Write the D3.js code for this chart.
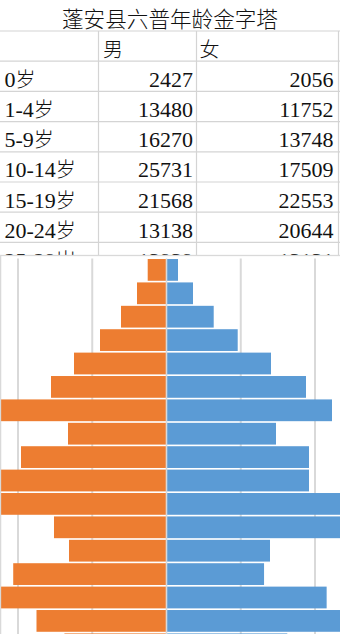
<!DOCTYPE html>
<html><head><meta charset="utf-8">
<script src="https://cdn.jsdelivr.net/npm/d3@7"></script>
<style>html,body{margin:0;padding:0;background:#fff;overflow:hidden}svg{display:block}</style>
</head><body>
<script>
// ---- data ----
const title = "蓬安县六普年龄金字塔";
const headers = ["", "男", "女"];
const ageGroups = ["0岁","1-4岁","5-9岁","10-14岁","15-19岁","20-24岁","25-29岁","30-34岁","35-39岁","40-44岁","45-49岁","50-54岁","55-59岁","60-64岁","65-69岁","70-74岁","75-79岁","80-84岁","85岁以上"];
const maleValues   = [2427,13480,16270,25731,21568,13138,13939,24000,25000,19192,19192,14747,22289,18788,14074,9589,6357,3569,1549];
const femaleValues = [2056,11752,13748,17509,22553,20644,13131,15152,24500,23500,19596,13266,23000,15555,12458,8956,6128,3973,2532];
const sheetRowCount = 7;
const gridTicks = [-20000,-10000,10000,20000];

// ---- layout ----
const W = 340, H = 634;
const ORANGE = "#ED7D31", BLUE = "#5B9BD5";
const CELL = "#d4d4d4", GRID = "#d9d9d9";
const SERIF = "'Liberation Serif','Noto Sans CJK SC',serif";
const CJK = "'Noto Sans CJK SC',sans-serif";

const svg = d3.select("body").append("svg").attr("width", W).attr("height", H);
svg.append("rect").attr("width", W).attr("height", H).attr("fill", "#fff");

// ---- spreadsheet table ----
const rowTop0 = 31, rowH = 30.2;
const colX = [0, 98.5, 196.5, 338.5];
const sheet = svg.append("g");
const nLines = sheetRowCount + 2;
for (let i = 0; i < nLines; i++) {
  const y = rowTop0 + i * rowH;
  sheet.append("line").attr("x1", 0).attr("x2", W).attr("y1", y).attr("y2", y)
    .attr("stroke", CELL).attr("stroke-width", 1.2);
}
[colX[1], colX[2], colX[3]].forEach(x => {
  sheet.append("line").attr("x1", x).attr("x2", x).attr("y1", rowTop0).attr("y2", 256)
    .attr("stroke", CELL).attr("stroke-width", 1.2);
});
sheet.append("text").attr("x", 170).attr("y", 27).attr("text-anchor", "middle")
  .attr("font-family", CJK).attr("font-weight", 300).attr("font-size", 21.6).attr("fill", "#111").text(title);

function label(g, x, y, s) {
  const t = g.append("text").attr("x", x).attr("y", y).attr("fill", "#111");
  const m = s.match(/^([0-9\-]*)(.*)$/);
  if (m[1]) t.append("tspan").attr("font-family", SERIF).attr("font-size", 22).text(m[1]);
  if (m[2]) t.append("tspan").attr("font-family", CJK).attr("font-weight", 300).attr("font-size", 20).text(m[2]);
}
label(sheet, 103, rowTop0 + 25.6, headers[1]);
label(sheet, 199.5, rowTop0 + 25.6, headers[2]);
for (let i = 0; i < sheetRowCount; i++) {
  const yb = rowTop0 + (i + 1) * rowH + 25.6;
  label(sheet, 4.5, yb, ageGroups[i]);
  sheet.append("text").attr("x", 193).attr("y", yb).attr("text-anchor", "end")
    .attr("font-family", SERIF).attr("font-size", 22).attr("fill", "#111").text(maleValues[i]);
  sheet.append("text").attr("x", 333.5).attr("y", yb).attr("text-anchor", "end")
    .attr("font-family", SERIF).attr("font-size", 22).attr("fill", "#111").text(femaleValues[i]);
}

// ---- chart ----
const chartTop = 255.5;
svg.append("rect").attr("x", 0.5).attr("y", chartTop).attr("width", W + 10).attr("height", H)
  .attr("fill", "#fff").attr("stroke", GRID).attr("stroke-width", 1.3);

const order = ageGroups.slice().reverse();
const x = d3.scaleLinear().domain([-20000, 20000]).range([18, 315]);
const y = d3.scaleBand().domain(order).range([258.2, 258.2 + order.length * 23.4])
  .paddingInner(0.07).paddingOuter(0.035);

svg.append("clipPath").attr("id", "plot").append("rect")
  .attr("x", 1).attr("y", 256.5).attr("width", W).attr("height", H);
const plot = svg.append("g").attr("clip-path", "url(#plot)");
const plotTop = 258.5;

plot.selectAll("line.grid").data(gridTicks).join("line").attr("class", "grid")
  .attr("x1", d => x(d)).attr("x2", d => x(d)).attr("y1", plotTop).attr("y2", H)
  .attr("stroke", GRID).attr("stroke-width", 2);

const rows = ageGroups.map((a, i) => ({age: a, m: maleValues[i], f: femaleValues[i]}));
plot.selectAll("rect.f").data(rows).join("rect").attr("class", "f")
  .attr("x", d => x(-d.f)).attr("width", d => x(0) - x(-d.f))
  .attr("y", d => y(d.age)).attr("height", y.bandwidth()).attr("fill", ORANGE);
plot.selectAll("rect.m").data(rows).join("rect").attr("class", "m")
  .attr("x", x(0)).attr("width", d => x(d.m) - x(0))
  .attr("y", d => y(d.age)).attr("height", y.bandwidth()).attr("fill", BLUE);

plot.append("line").attr("x1", x(0)).attr("x2", x(0)).attr("y1", plotTop).attr("y2", H)
  .attr("stroke", GRID).attr("stroke-width", 1.6);
svg.append("line").attr("x1", 0.5).attr("x2", 0.5).attr("y1", chartTop).attr("y2", H)
  .attr("stroke", GRID).attr("stroke-width", 1.3);
</script>
</body></html>
